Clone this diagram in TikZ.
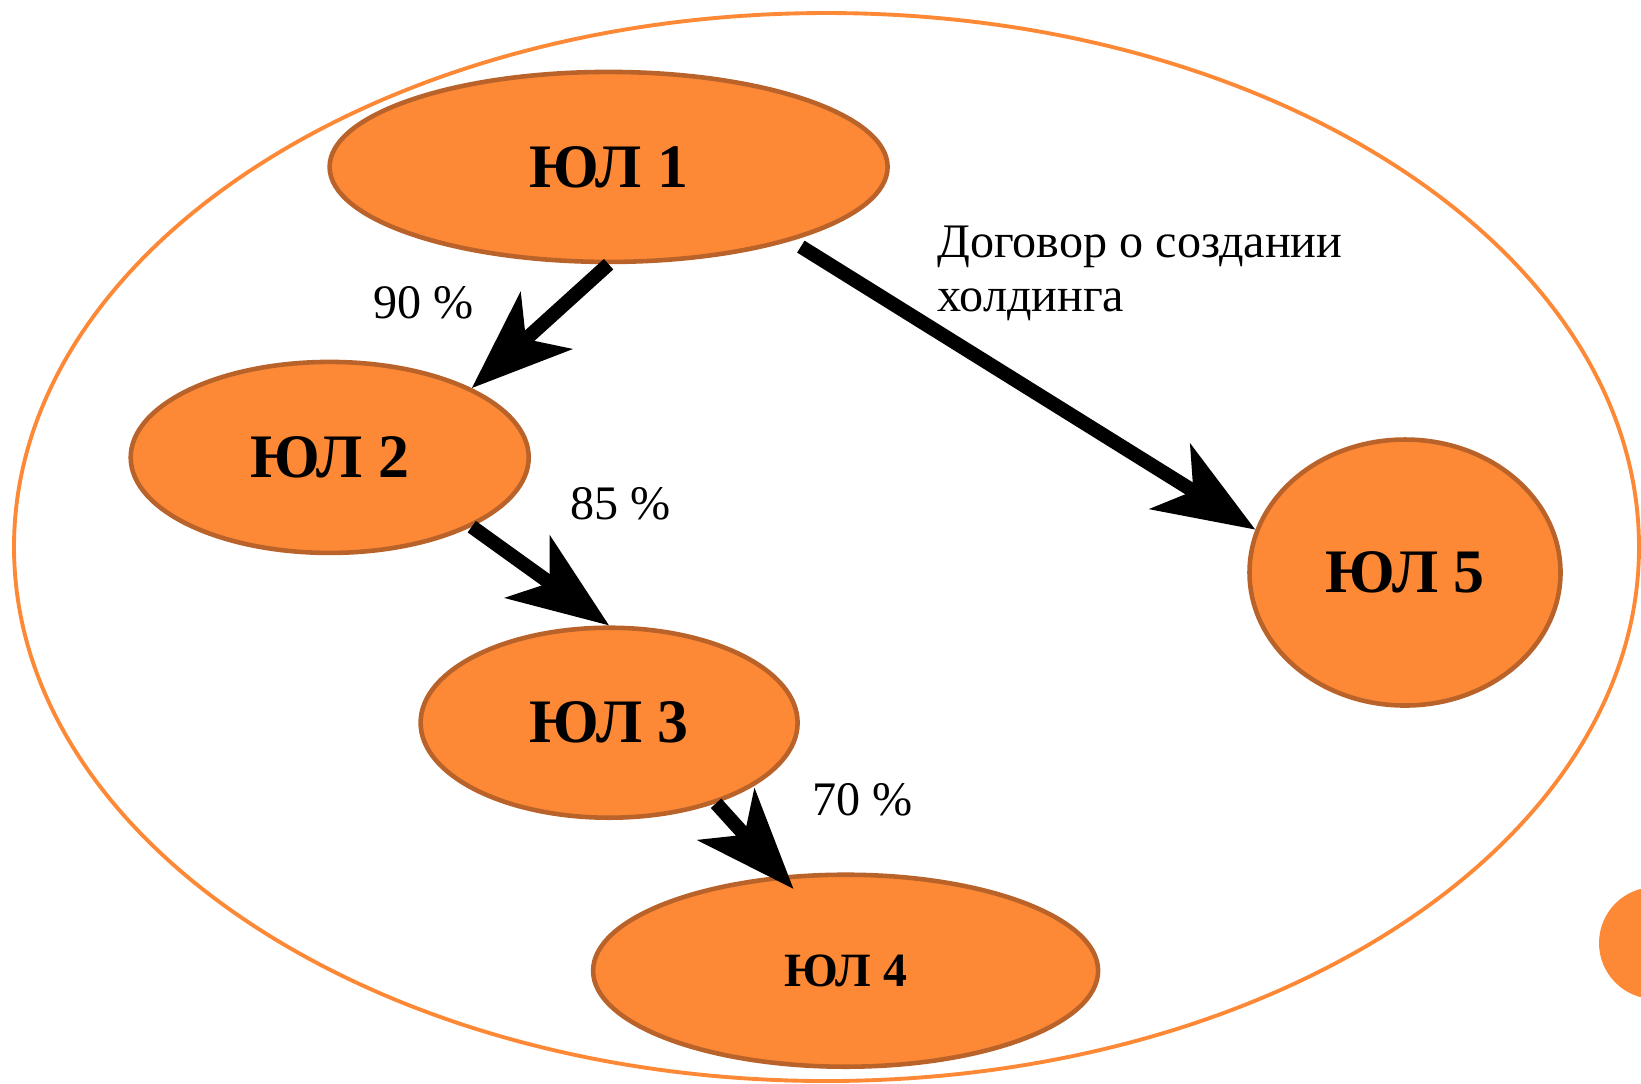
\documentclass[tikz,border=0pt]{standalone}
\usepackage{fontspec}
\setmainfont{Liberation Serif}
\usetikzlibrary{shapes.geometric,arrows.meta}
\definecolor{ulfill}{RGB}{253,137,54}
\definecolor{ulline}{RGB}{185,98,42}
\begin{document}
\begin{tikzpicture}[x=0.1mm,y=-0.1mm,
    ul/.style={ellipse,draw=ulline,fill=ulfill,line width=1.3pt,inner sep=0pt,font=\bfseries\fontsize{17.6}{21}\selectfont},
    pct/.style={font=\fontsize{13.7}{15.6}\selectfont},
    link/.style={line width=4pt,-{Stealth[length=10mm,width=7.6mm,inset=2.7mm]}}]
      \clip (0,0) rectangle (1641,1083);
      \fill[white] (0,0) rectangle (1641,1083);
      \draw[ulfill,line width=1.1pt] (826.5,547) ellipse [x radius=81.25mm, y radius=53.4mm];
      \fill[ulfill] (1655,943) circle [radius=5.6mm];
      \node[ul,minimum width=55.8mm,minimum height=19mm] (ul1) at (608.6,166.9) {ЮЛ 1};
      \node[ul,minimum width=39.8mm,minimum height=19.1mm] (ul2) at (329.7,457.4) {ЮЛ 2};
      \node[ul,minimum width=37.7mm,minimum height=19mm] (ul3) at (609.1,722.7) {ЮЛ 3};
      \node[ul,minimum width=50.5mm,minimum height=19.2mm,font=\bfseries\fontsize{13.6}{16}\selectfont] (ul4) at (845.6,970.7) {ЮЛ 4};
      \node[ul,minimum width=31.1mm,minimum height=26.6mm] (ul5) at (1405,572.5) {ЮЛ 5};
      \node[pct] (p90) at (423.9,302.5) {90 \%};
      \node[pct] (p85) at (620.6,503.4) {85 \%};
      \node[pct] (p70) at (862.4,799.6) {70 \%};
      \node[pct,anchor=base west,align=left,inner sep=0pt] (deal) at (936.7,311.9) {Договор о создании\\холдинга};
      \draw[link] (ul1.south) -- (ul2.26);
      \draw[link] (ul2.-26) -- (ul3.north);
      \draw[link,shorten >=-1.8mm] (ul3.-37) -- (ul4.124);
      \draw[link,shorten <=1.1mm] (ul1.-22) -- (ul5.164);
\end{tikzpicture}
\end{document}
